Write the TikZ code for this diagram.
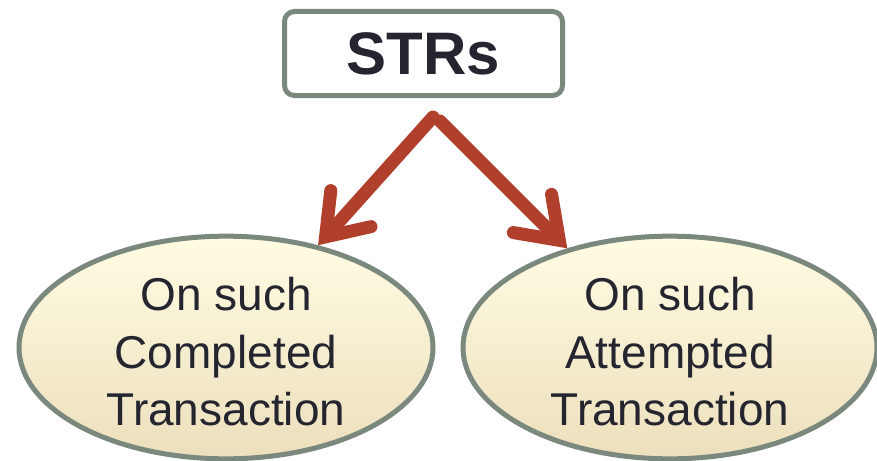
\documentclass[tikz,border=0pt]{standalone}
\usepackage{fontspec}
\setmainfont{Liberation Sans}
\usetikzlibrary{arrows.meta, shapes.geometric}
\definecolor{rim}{HTML}{7B887D}
\definecolor{brick}{HTML}{B0402C}
\definecolor{ink}{HTML}{25252F}
\definecolor{creamtop}{HTML}{FFFCE3}
\definecolor{creambot}{HTML}{ECDFBC}
\begin{document}
\begin{tikzpicture}[
    x=1pt, y=-1pt,
    box/.style={rectangle, rounded corners=10pt, draw=rim, line width=5pt, fill=white,
        minimum width=278pt, minimum height=84pt, text=ink,
        font=\fontsize{60}{70}\selectfont\bfseries},
    oval/.style={ellipse, draw=rim, line width=5pt, top color=creamtop, bottom color=creambot,
        minimum width=414pt, minimum height=216pt, inner sep=0pt, align=center, text=ink,
        font=\fontsize{46}{57.5}\selectfont},
    link/.style={draw=brick, line width=13pt, line cap=round,
        -{Straight Barb[length=38pt, width=54pt, line cap=round, line join=miter]}}
]
\useasboundingbox (0,0) rectangle (877,460);

% Nodes
\node[box] (strs) at (423.5,53.5) {STRs};
\node[oval] (done) at (226,347.5) {\rule{0pt}{42pt}On such\\Completed\\Transaction};
\node[oval] (tried) at (670,347.5) {\rule{0pt}{42pt}On such\\Attempted\\Transaction};
\coordinate (forkl) at (433,117);
\coordinate (forkr) at (440,121);

% Edges
\draw[link] (forkl) -- (done.48);
\draw[link] (forkr) -- (tried.136);

\end{tikzpicture}
\end{document}
